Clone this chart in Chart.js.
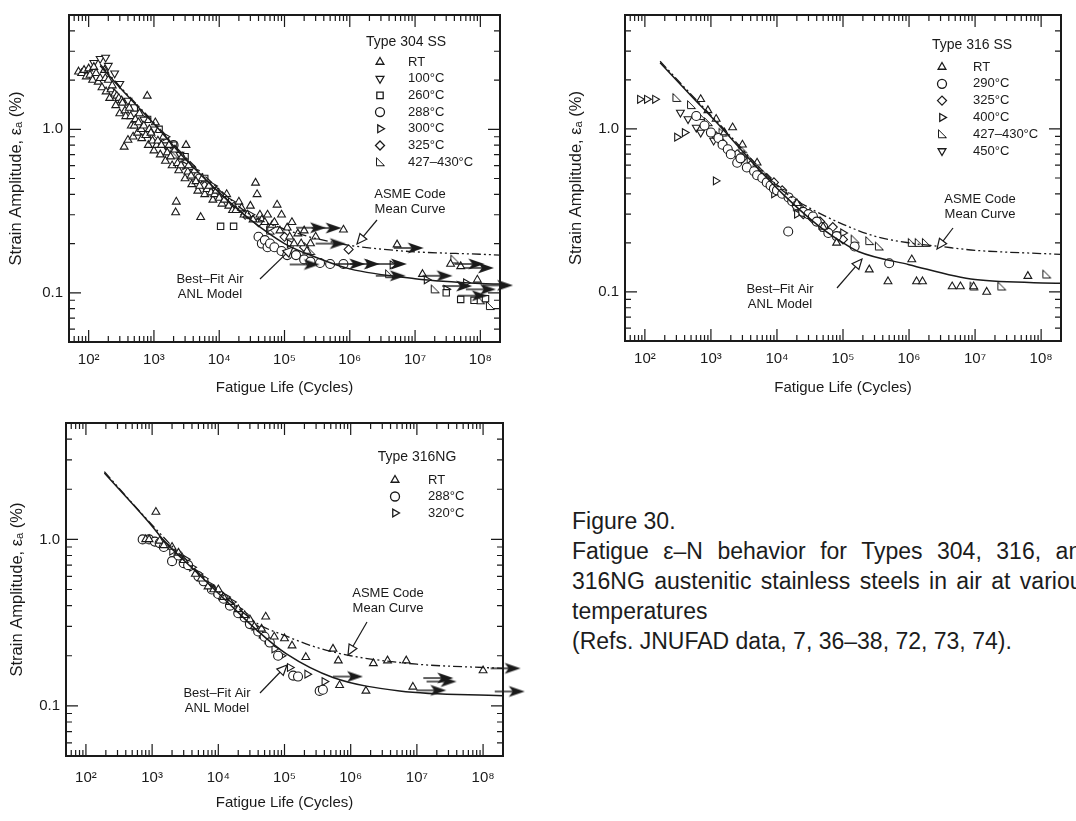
<!DOCTYPE html>
<html>
<head>
<meta charset="utf-8">
<title>Fatigue e-N behavior, austenitic stainless steels in air</title>
<script src="https://cdn.jsdelivr.net/npm/chart.js@4.4.1/dist/chart.umd.min.js"></script>
<style>
  html, body { margin: 0; padding: 0; background: #fff; }
  body { width: 1076px; height: 821px; overflow: hidden; position: relative; font-family: "Liberation Sans", Arial, sans-serif; }
  .panel { position: absolute; }
  #caption { position: absolute; left: 572px; top: 506px; width: 522px; font-size: 23px; line-height: 30px; color: #1c1c1c; white-space: nowrap; }
  #caption .just { text-align: justify; text-align-last: justify; white-space: normal; }
</style>
</head>
<body>
<div class="panel" style="left:0;top:0;width:530px;height:400px"><canvas id="c304"></canvas></div>
<div class="panel" style="left:540px;top:0;width:536px;height:400px"><canvas id="c316"></canvas></div>
<div class="panel" style="left:0;top:400px;width:530px;height:421px"><canvas id="c316ng"></canvas></div>

<div id="caption">
  <div>Figure 30.</div>
  <div class="just">Fatigue ε–N behavior for Types 304, 316, and</div>
  <div class="just">316NG austenitic stainless steels in air at various</div>
  <div>temperatures</div>
  <div>(Refs. JNUFAD data, 7, 36–38, 72, 73, 74).</div>
</div>

<script>
// axes shared by all three panels
const xRange = [50, 2e8];
const yRange = [0.05, 5];
const xMajor = [1e2, 1e3, 1e4, 1e5, 1e6, 1e7, 1e8];
const xLabels = ['10²', '10³', '10⁴', '10⁵', '10⁶', '10⁷', '10⁸'];
const yMajor = [0.1, 1];
const yLabels = ['0.1', '1.0'];

// ---- Type 304 SS : [cycles, strain amplitude %]
const ss304RT = [[70,2.25],[78,2.2],[85,2.3],[92,2.1],[100,2.35],[105,2.15],[115,2.0],[120,2.4],[130,2.2],[140,1.95],
  [150,2.05],[160,1.8],[175,2.3],[180,2.05],[185,1.7],[200,2.0],[210,1.55],[220,1.75],[230,1.85],[250,1.65],[260,1.4],
  [270,1.6],[290,1.55],[300,1.25],[320,1.5],[330,1.45],[350,0.78],[360,1.3],[370,1.2],[400,0.86],[420,1.35],[440,1.2],
  [450,1.05],[480,0.9],[500,1.05],[520,1.15],[560,0.95],[580,1.1],[600,1.25],[640,1.0],[650,0.88],[700,1.05],[750,0.92],
  [790,1.6],[820,0.8],[850,1.0],[900,0.95],[950,0.85],[1000,0.74],[1050,1.1],[1100,0.8],[1150,0.85],[1250,0.7],[1300,0.8],
  [1400,0.9],[1500,0.64],[1600,0.72],[1700,0.8],[1800,0.68],[1900,0.6],[2100,0.75],[2200,0.36],[2150,0.31],[2300,0.62],
  [2400,0.56],[2600,0.6],[2700,0.68],[3000,0.5],[3100,0.8],[3300,0.55],[3400,0.6],[3700,0.52],[3800,0.46],[4200,0.56],
  [4400,0.48],[4700,0.42],[5000,0.45],[5200,0.29],[5500,0.5],[6000,0.4],[6500,0.43],[7000,0.45],[7500,0.41],[8000,0.37],
  [8500,0.4],[9000,0.42],[10000,0.38],[11000,0.35],[12000,0.37],[13000,0.4],[14000,0.34],[16000,0.32],[18000,0.32],
  [20000,0.36],[22000,0.33],[24000,0.3],[27000,0.3],[30000,0.34],[33000,0.28],[36000,0.47],[38000,0.4],[42000,0.3],
  [45000,0.28],[50000,0.27],[55000,0.3],[65000,0.26],[70000,0.27],[77000,0.345],[85000,0.24],[90000,0.3],[1.1e5,0.25],
  [1.2e5,0.22],[1.3e5,0.27],[1.4e5,0.2],[1.6e5,0.23],[1.8e5,0.2],[2e5,0.24],[2.2e5,0.18],[2.5e5,0.2],[3e5,0.22],
  [8e5,0.243],[5.3e6,0.197],[1.3e7,0.13],[3.5e7,0.15],[5e7,0.145],[9e7,0.12]];
const ss304C100 = [[120,2.55],[150,2.7],[182,2.75],[200,2.45],[250,2.2],[300,1.9],[400,1.5],[700,1.15],[1000,1.0],[1500,0.8],[2500,0.7],[4000,0.55]];
const ss304C260 = [[500,1.35],[800,1.15],[1200,1.0],[2000,0.8],[3000,0.68],[6000,0.5],[10500,0.255],[16600,0.255],[3e7,0.1],[5e7,0.091],[8e7,0.09],[1.2e8,0.092]];
const ss304C288 = [[2000,0.8],[5000,0.5],[20000,0.33],[40000,0.22],[45000,0.2],[50000,0.21],[55000,0.19],[60000,0.2],[70000,0.19],
  [90000,0.18],[1.1e5,0.17],[1.5e5,0.17],[2e5,0.16],[2.5e5,0.155],[3.5e5,0.152],[5e5,0.15],[8e5,0.15]];
const ss304C300 = [[1500,0.9],[3000,0.6],[5000,0.5],[8000,0.45],[15000,0.36],[30000,0.3],[60000,0.25],[1.2e5,0.2],[2e6,0.15],[4.5e6,0.148],[1.5e7,0.12],[3e7,0.105],[6e7,0.115]];
const ss304C325 = [[1500,0.85],[3000,0.62],[6000,0.45],[10000,0.4],[25000,0.3],[40000,0.27],[1e5,0.22],[2e5,0.19],[9.6e5,0.184]];
const ss304C427 = [[1000,0.9],[2000,0.7],[4000,0.52],[8000,0.42],[15000,0.35],[30000,0.3],[60000,0.24],[2.5e5,0.18],[4e6,0.13],[2e7,0.105],[4e7,0.16],[1e8,0.09],[1.4e8,0.083]];
const ss304Runout = [[1.5e5,0.25],[2.6e5,0.249],[3e5,0.2],[6e5,0.15],[4.7e6,0.188],[1.2e5,0.149],[1.0e6,0.15],[2.6e6,0.15],[2.5e6,0.127],
  [1.3e7,0.127],[4e7,0.15],[5.6e7,0.142],[2.6e7,0.11],[1.1e8,0.111],[4.5e7,0.096],[6e7,0.105]];
const ss304Fit = [[150,2.45],[300,1.8],[1000,1.08],[3000,0.66],[1e4,0.41],[3e4,0.28],[1e5,0.2],[3e5,0.165],[1e6,0.14],[1e7,0.122],[1e8,0.114],[2e8,0.113]];
const ss304Asme = [[150,2.5],[300,1.83],[1000,1.1],[3000,0.68],[1e4,0.43],[3e4,0.3],[1e5,0.245],[3e5,0.215],[1e6,0.195],[3e6,0.185],[1e7,0.178],[1e8,0.172],[2e8,0.17]];

// ---- Type 316 SS
const ss316RT = [[700,1.52],[900,1.3],[1200,1.15],[1600,0.95],[2130,1.02],[3000,0.8],[5000,0.62],[20000,0.35],[50000,0.25],[80000,0.2],
  [2.5e5,0.137],[4.8e5,0.116],[1.1e6,0.158],[1.3e6,0.116],[1.6e6,0.116],[4.5e6,0.108],[6e6,0.108],[9.5e6,0.108],[1.5e7,0.1],[6.3e7,0.125]];
const ss316C290 = [[600,1.2],[800,1.05],[1000,0.95],[1300,0.88],[1500,0.8],[1800,0.75],[2000,0.7],[2500,0.62],[2800,0.66],[3500,0.58],
  [4500,0.55],[5000,0.52],[6000,0.5],[7000,0.47],[8000,0.45],[9000,0.43],[10000,0.42],[12000,0.4],[14800,0.235],[15000,0.38],
  [17000,0.36],[20000,0.34],[25000,0.31],[30000,0.3],[35000,0.29],[40000,0.27],[50000,0.25],[60000,0.23],[80000,0.22],[1.5e5,0.19],[5e5,0.15]];
const ss316C325 = [[1200,0.9],[1500,0.82],[2500,0.7],[3000,0.66],[4000,0.6],[5000,0.56],[7000,0.5],[9000,0.47],[12000,0.42],[15000,0.38],
  [18000,0.35],[22000,0.33],[25000,0.3],[35000,0.28],[45000,0.27],[70000,0.25],[1e5,0.21]];
const ss316C400 = [[84,1.52],[107,1.52],[142,1.52],[306,0.89],[400,0.95],[1180,0.48],[9000,0.4],[20000,0.3],[50000,0.25],[1e5,0.23]];
const ss316C427 = [[300,1.55],[500,1.4],[700,1.2],[900,1.1],[1500,0.95],[3000,0.75],[4000,0.65],[6000,0.55],[10000,0.45],[20000,0.33],
  [30000,0.3],[50000,0.27],[1e5,0.22],[1.5e5,0.21],[2.5e5,0.205],[3.5e5,0.19],[1.1e6,0.2],[1.4e6,0.2],[1.8e6,0.2],[9.5e6,0.108],[2.5e7,0.108],[1.2e8,0.128]];
const ss316C450 = [[345,1.26],[450,1.15],[600,1.02],[700,0.95],[1100,0.85]];
const ss316Fit = [[170,2.55],[500,1.6],[1500,1.0],[5000,0.58],[13000,0.39],[40000,0.26],[1e5,0.2],[1.7e5,0.177],[1e6,0.147],[1e7,0.119],[2e8,0.113]];
const ss316Asme = [[170,2.6],[500,1.63],[1500,1.02],[5000,0.6],[13000,0.41],[30000,0.33],[1e5,0.26],[3e5,0.22],[1e6,0.2],[3e6,0.19],[1e7,0.18],[1e8,0.172],[2e8,0.17]];

// ---- Type 316NG
const ngRT = [[800,1.0],[900,1.0],[1140,1.46],[1300,0.98],[1500,0.92],[2000,0.9],[2500,0.83],[3000,0.75],[4500,0.62],[5500,0.58],
  [7000,0.52],[8500,0.5],[10000,0.5],[12000,0.45],[15000,0.42],[20000,0.38],[25000,0.35],[30000,0.33],[35000,0.3],[45000,0.29],
  [52000,0.343],[70000,0.26],[1e5,0.254],[1.3e5,0.23],[2.1e5,0.196],[5.4e5,0.22],[6.5e5,0.187],[6.8e5,0.133],
  [1.7e6,0.123],[2.2e6,0.18],[3.6e6,0.187],[6.9e6,0.187],[8.7e6,0.13],[1e8,0.163]];
const ngC288 = [[720,1.0],[900,1.0],[1100,0.97],[1300,0.95],[1500,0.9],[2000,0.74],[2500,0.8],[3000,0.72],[3500,0.7],[5000,0.6],
  [6000,0.56],[8000,0.5],[10000,0.47],[12000,0.44],[15000,0.4],[20000,0.36],[25000,0.34],[30000,0.31],[40000,0.28],[50000,0.26],
  [60000,0.24],[80000,0.2],[1.35e5,0.152],[1.6e5,0.15],[3.4e5,0.123],[3.8e5,0.125]];
const ngC320 = [[1200,0.97],[1600,0.92],[2000,0.85],[2500,0.8],[3200,0.76],[4000,0.68],[5000,0.62],[6000,0.58],[7500,0.53],[9300,0.486],
  [11000,0.46],[13000,0.45],[16000,0.42],[20000,0.38],[28000,0.33],[35000,0.3],[45000,0.27],[55000,0.25],[70000,0.22],[90000,0.2],
  [1.2e5,0.17],[2.2e5,0.155],[4e5,0.14]];
const ngRunout = [[5.4e5,0.15],[9.8e6,0.124],[1.25e7,0.147],[1.4e7,0.14],[1.3e8,0.168],[1.5e8,0.122]];
const ngFit = [[190,2.5],[1000,1.2],[1450,1.0],[5000,0.62],[16700,0.39],[40000,0.28],[1.07e5,0.205],[5.4e5,0.148],[5.5e6,0.123],[2e8,0.115]];
const ngAsme = [[190,2.55],[1000,1.22],[5000,0.63],[16700,0.41],[40000,0.31],[1e5,0.265],[3e5,0.225],[1e6,0.2],[1e7,0.178],[1e8,0.17],[2e8,0.168]];

const ink = '#1a1a1a';
const family = '"Liberation Sans", Arial, sans-serif';

function makeCanvas(w, h, draw) {
  const c = document.createElement('canvas');
  c.width = w; c.height = h;
  draw(c.getContext('2d'));
  return c;
}
// open right-angle triangle used for 427-430 °C
const cornerTri = makeCanvas(12, 12, g => {
  g.fillStyle = '#fff'; g.strokeStyle = ink; g.lineWidth = 1;
  g.beginPath(); g.moveTo(2.5, 1.5); g.lineTo(2.5, 9.5); g.lineTo(10.5, 9.5); g.closePath();
  g.fill(); g.stroke();
});
// run-out arrow, tail at the image centre
const arrowImg = makeCanvas(62, 14, g => {
  g.strokeStyle = ink; g.fillStyle = ink; g.lineWidth = 1.4;
  g.beginPath(); g.moveTo(31, 7); g.lineTo(50, 7); g.stroke();
  g.beginPath(); g.moveTo(45, 1.5); g.lineTo(61, 7); g.lineTo(45, 12.5); g.lineTo(49, 7); g.closePath(); g.fill();
});

function logTicks(min, max, majors) {
  const out = [];
  for (let d = 1e-2; d <= 1e9; d *= 10) {
    for (let m = 1; m < 10; m++) {
      const v = +(d * m).toPrecision(3);
      if (v > min && v < max) out.push({ value: v, major: majors.includes(v) });
    }
  }
  return out;
}

const pts = arr => arr.map(p => ({ x: p[0], y: p[1] }));

// border box + inward ticks on all four sides
const frameTicks = {
  id: 'frameTicks',
  afterDatasetsDraw(chart) {
    const { ctx, chartArea: a, scales: { x, y } } = chart;
    ctx.save();
    ctx.strokeStyle = ink;
    ctx.lineWidth = 1.2;
    ctx.beginPath();
    x.ticks.forEach(t => {
      const px = x.getPixelForValue(t.value), len = t.major ? 12 : 6;
      ctx.moveTo(px, a.bottom); ctx.lineTo(px, a.bottom - len);
      ctx.moveTo(px, a.top); ctx.lineTo(px, a.top + len);
    });
    y.ticks.forEach(t => {
      const py = y.getPixelForValue(t.value), len = t.major ? 12 : 6;
      ctx.moveTo(a.left, py); ctx.lineTo(a.left + len, py);
      ctx.moveTo(a.right, py); ctx.lineTo(a.right - len, py);
    });
    ctx.stroke();
    ctx.lineWidth = 2;
    ctx.strokeRect(a.left, a.top, a.right - a.left, a.bottom - a.top);
    ctx.restore();
  }
};

function pointer(ctx, x1, y1, x2, y2) {
  const ang = Math.atan2(y2 - y1, x2 - x1);
  ctx.beginPath(); ctx.moveTo(x1, y1); ctx.lineTo(x2 - 8 * Math.cos(ang), y2 - 8 * Math.sin(ang)); ctx.stroke();
  ctx.beginPath();
  ctx.moveTo(x2, y2);
  ctx.lineTo(x2 - 10 * Math.cos(ang) + 4.5 * Math.sin(ang), y2 - 10 * Math.sin(ang) - 4.5 * Math.cos(ang));
  ctx.lineTo(x2 - 10 * Math.cos(ang) - 4.5 * Math.sin(ang), y2 - 10 * Math.sin(ang) + 4.5 * Math.cos(ang));
  ctx.closePath();
  ctx.fillStyle = '#fff'; ctx.fill(); ctx.stroke();
}

// legend block and curve labels, placed relative to the plot area
function notes(cfg) {
  return {
    id: 'notes',
    afterDraw(chart) {
      const { ctx, chartArea: a } = chart;
      ctx.save();
      ctx.textBaseline = 'middle';
      ctx.fillStyle = ink;
      ctx.font = '14px ' + family;
      ctx.textAlign = 'center';
      ctx.fillText(cfg.title, a.left + cfg.titleAt[0], a.top + cfg.titleAt[1]);
      ctx.font = '13px ' + family;
      chart.data.datasets.filter(d => d.inLegend).forEach((d, i) => {
        const yy = a.top + cfg.rowY + i * cfg.rowH;
        ctx.fillStyle = '#fff'; ctx.strokeStyle = ink; ctx.lineWidth = 1.3;
        Chart.helpers.drawPoint(ctx, { pointStyle: d.pointStyle, rotation: d.pointRotation || 0, radius: 4.5, borderWidth: 1.3 }, a.left + cfg.symX, yy);
        ctx.fillStyle = ink; ctx.textAlign = 'left';
        ctx.fillText(d.label, a.left + cfg.textX, yy);
      });
      ctx.textAlign = 'center';
      cfg.labels.forEach(l => l.lines.forEach((t, k) => ctx.fillText(t, a.left + l.at[0], a.top + l.at[1] + k * 15.5)));
      ctx.strokeStyle = ink; ctx.lineWidth = 1.2;
      cfg.pointers.forEach(p => pointer(ctx, a.left + p[0], a.top + p[1], a.left + p[2], a.top + p[3]));
      ctx.restore();
    }
  };
}

function panel(id, opt) {
  const datasets = [
    { type: 'line', label: 'Best–Fit Air ANL Model', data: pts(opt.fit), borderColor: ink, borderWidth: 1.5, pointRadius: 0, cubicInterpolationMode: 'monotone' },
    { type: 'line', label: 'ASME Code Mean Curve', data: pts(opt.asme), borderColor: ink, borderWidth: 1.3, borderDash: [9, 3, 2, 3, 2, 3], pointRadius: 0, cubicInterpolationMode: 'monotone' }
  ];
  if (opt.runouts) datasets.push({ label: 'run-out', data: pts(opt.runouts), pointStyle: arrowImg, clip: false });
  opt.series.forEach(s => datasets.push({
    label: s.label, data: pts(s.data), pointStyle: s.style, pointRotation: s.rot || 0,
    pointRadius: 4.5, borderColor: ink, backgroundColor: '#fff', borderWidth: 1.1, inLegend: true
  }));

  const tickFont = { family: family, size: 15 };
  new Chart(document.getElementById(id), {
    type: 'scatter',
    data: { datasets: datasets },
    options: {
      responsive: true,
      maintainAspectRatio: false,
      animation: false,
      events: [],
      layout: { padding: opt.pad },
      plugins: { legend: { display: false }, tooltip: { enabled: false } },
      scales: {
        x: {
          type: 'logarithmic', min: xRange[0], max: xRange[1],
          afterBuildTicks: s => { s.ticks = logTicks(xRange[0], xRange[1], xMajor); },
          afterFit: s => { s.height = opt.xh; },
          grid: { display: false, drawTicks: false },
          border: { display: false },
          ticks: {
            autoSkip: false, maxRotation: 0, padding: opt.xpad, color: ink, font: tickFont,
            callback: v => { const i = xMajor.indexOf(v); return i < 0 ? '' : xLabels[i]; }
          },
          title: { display: true, text: 'Fatigue Life (Cycles)', color: ink, font: { family: family, size: 15 }, padding: 0 }
        },
        y: {
          type: 'logarithmic', min: yRange[0], max: yRange[1],
          afterBuildTicks: s => { s.ticks = logTicks(yRange[0], yRange[1], yMajor); },
          afterFit: s => { s.width = opt.yw; },
          grid: { display: false, drawTicks: false },
          border: { display: false },
          ticks: {
            autoSkip: false, padding: 6, color: ink, font: tickFont,
            callback: v => { const i = yMajor.indexOf(v); return i < 0 ? '' : yLabels[i]; }
          },
          title: { display: true, text: 'Strain Amplitude, εₐ (%)', color: ink, font: { family: family, size: 16.5 }, padding: 0 }
        }
      }
    },
    plugins: [frameTicks, notes(opt.notes)]
  });
}

panel('c304', {
  pad: { left: 7, top: 13, right: 30, bottom: 3 }, yw: 62, xh: 55, xpad: 9,
  fit: ss304Fit, asme: ss304Asme, runouts: ss304Runout,
  series: [
    { label: 'RT', data: ss304RT, style: 'triangle' },
    { label: '100°C', data: ss304C100, style: 'triangle', rot: 180 },
    { label: '260°C', data: ss304C260, style: 'rect' },
    { label: '288°C', data: ss304C288, style: 'circle' },
    { label: '300°C', data: ss304C300, style: 'triangle', rot: 90 },
    { label: '325°C', data: ss304C325, style: 'rectRot' },
    { label: '427–430°C', data: ss304C427, style: cornerTri }
  ],
  notes: {
    title: 'Type 304 SS', titleAt: [337, 27], symX: 311, textX: 339, rowY: 47, rowH: 16.7,
    labels: [
      { lines: ['ASME Code', 'Mean Curve'], at: [341, 179] },
      { lines: ['Best–Fit Air', 'ANL Model'], at: [141, 264] }
    ],
    pointers: [[308, 205, 288, 229], [191, 264, 224, 232]]
  }
});

panel('c316', {
  pad: { left: 27, top: 9, right: 15, bottom: 3 }, yw: 58, xh: 56, xpad: 9,
  fit: ss316Fit, asme: ss316Asme,
  series: [
    { label: 'RT', data: ss316RT, style: 'triangle' },
    { label: '290°C', data: ss316C290, style: 'circle' },
    { label: '325°C', data: ss316C325, style: 'rectRot' },
    { label: '400°C', data: ss316C400, style: 'triangle', rot: 90 },
    { label: '427–430°C', data: ss316C427, style: cornerTri },
    { label: '450°C', data: ss316C450, style: 'triangle', rot: 180 }
  ],
  notes: {
    title: 'Type 316 SS', titleAt: [347, 30], symX: 317, textX: 348, rowY: 52, rowH: 16.8,
    labels: [
      { lines: ['ASME Code', 'Mean Curve'], at: [355, 184] },
      { lines: ['Best–Fit Air', 'ANL Model'], at: [155, 274] }
    ],
    pointers: [[328, 213, 312, 234], [212, 273, 237, 244]]
  }
});

panel('c316ng', {
  pad: { left: 8, top: 23, right: 27, bottom: 9 }, yw: 58, xh: 56, xpad: 13,
  fit: ngFit, asme: ngAsme, runouts: ngRunout,
  series: [
    { label: 'RT', data: ngRT, style: 'triangle' },
    { label: '288°C', data: ngC288, style: 'circle' },
    { label: '320°C', data: ngC320, style: 'triangle', rot: 90 }
  ],
  notes: {
    title: 'Type 316NG', titleAt: [351, 34], symX: 329, textX: 362, rowY: 57, rowH: 16.5,
    labels: [
      { lines: ['ASME Code', 'Mean Curve'], at: [322, 170] },
      { lines: ['Best–Fit Air', 'ANL Model'], at: [151, 270] }
    ],
    pointers: [[301, 199, 282, 232], [194, 270, 221, 242]]
  }
});
</script>
</body>
</html>
